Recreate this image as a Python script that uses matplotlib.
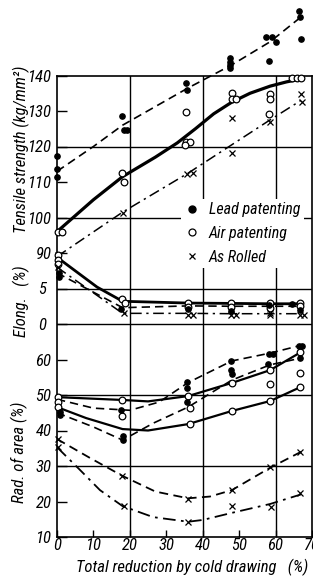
import matplotlib
matplotlib.use("Agg")
import matplotlib.pyplot as plt
from matplotlib.lines import Line2D

plt.rcParams['font.family'] = ['Roboto Condensed', 'Roboto', 'DejaVu Sans']
plt.rcParams['font.style'] = 'italic'

# ---------------- data ----------------
# Tensile strength (kg/mm2)
lead_ts_px = [0, 0, 0, 17.8, 18.5, 19.2, 35.5, 35.8, 47.5, 47.5, 47.5, 47.5, 57.5, 59, 60, 58.2, 66.5, 66.8, 67]
lead_ts_py = [117.3, 113.7, 111.4, 128.6, 124.6, 124.6, 137.9, 135.9, 144.9, 143.8, 143, 142.1, 150.8, 150.8, 149.4, 144.1, 158.2, 156.5, 150.3]
lead_ts_lx = [0, 10, 18, 36, 48, 58.5, 67]
lead_ts_ly = [113, 120, 126, 136.5, 143, 149.5, 156.5]

air_ts_px = [0.3, 1.4, 17.8, 18.3, 35.5, 35.5, 36.6, 35.2, 48, 48, 49.2, 58.5, 58.5, 58.3, 64.4, 65.8, 67.1]
air_ts_py = [96, 96, 112.5, 110, 129.7, 121.3, 121.3, 120.4, 135.1, 133.4, 133.4, 134.8, 133.4, 129.2, 139.3, 139.3, 139.3]
air_ts_lx = [0, 5, 10, 18, 27, 33, 38, 43, 48, 53, 58.5, 63, 67]
air_ts_ly = [96, 100.5, 105, 111.5, 117, 121, 125, 129.2, 132.5, 135, 137, 138.2, 139]

rol_ts_px = [0.3, 18, 35.6, 37.3, 48, 48, 58.5, 67, 67.2]
rol_ts_py = [89.5, 101.3, 112.3, 112.5, 128, 118.2, 126.9, 134.8, 132.5]
rol_ts_lx = [0, 18, 36, 48, 58.5, 67]
rol_ts_ly = [89, 101.5, 112.5, 120.5, 127.5, 133]

# Elongation (%)
air_el_px = [0.3, 0.3, 0.3, 17.9, 18.6, 35.9, 35.9, 47.8, 47.8, 58.4, 58.4, 66.7, 66.7]
air_el_py = [9.7, 9.0, 8.4, 3.5, 2.9, 3.0, 2.45, 2.9, 2.45, 2.9, 2.3, 3.0, 2.5]
air_el_lx = [0, 11, 18, 36, 48, 58.5, 67]
air_el_ly = [9.4, 5.2, 3.2, 2.95, 2.9, 2.85, 2.85]

lead_el_px = [0.6, 0.6, 17.6, 35.9, 47.8, 58.2, 64.6, 66.7]
lead_el_py = [7.2, 6.6, 2.1, 2.05, 1.9, 2.7, 2.8, 2.0]
lead_el_lx = [0, 18, 36, 48, 58.5, 67]
lead_el_ly = [7.2, 2.3, 2.55, 2.5, 2.5, 2.5]

rol_el_px = [0.3, 18.5, 35.9, 37.2, 47.8, 49.2, 58.4, 58.4, 66.7, 67.7]
rol_el_py = [8.0, 1.6, 1.27, 1.27, 1.27, 1.27, 1.6, 1.27, 1.27, 1.27]
rol_el_lx = [0, 18, 36, 48, 58.5, 67]
rol_el_ly = [8.0, 1.5, 1.5, 1.45, 1.45, 1.45]

# Reduction of area (%)
air_ra_px = [0.3, 0.3, 0.3, 17.8, 17.8, 35.9, 36.5, 36.5, 48, 48, 58.5, 58.5, 58.5, 66.8, 66.8, 66.8]
air_ra_py = [49.4, 48.0, 46.6, 48.6, 44.1, 49.7, 46.3, 41.8, 53.4, 45.5, 57, 53.1, 48.3, 62.1, 56.2, 52.3]
airA_ra_lx = [0, 18, 25, 36, 48, 58.5, 67]
airA_ra_ly = [49.4, 48.6, 48.2, 49.7, 53.4, 57, 62.1]
airB_ra_lx = [0, 8, 18, 25, 36, 48, 58.5, 67]
airB_ra_ly = [46.6, 43.5, 40.4, 40.0, 41.8, 45.5, 48.3, 52.3]

lead_ra_px = [0.8, 0.8, 17.6, 18.2, 18.2, 35.8, 35.8, 35.8, 47.8, 47.8, 48.1, 58.3, 59.2, 57.8, 66.4, 67.3, 66.6]
lead_ra_py = [45.3, 44.4, 45.8, 38.5, 37.3, 53.7, 51.9, 48.1, 59.7, 57.0, 55.8, 61.5, 61.5, 58.6, 63.9, 63.9, 60.3]
leadA_ra_lx = [0, 10, 20, 28, 36, 48, 58.5, 67]
leadA_ra_ly = [48.8, 46.3, 45.7, 48, 53.5, 59.6, 61.8, 64]
leadB_ra_lx = [0, 10, 18, 26.5, 36, 48, 58.5, 67]
leadB_ra_ly = [45, 41, 37.3, 42.1, 46.6, 54.2, 58.5, 60.4]

rol_ra_px = [0.3, 0.3, 17.8, 18.3, 35.9, 35.9, 48, 48, 58.5, 58.8, 66.8, 66.8]
rol_ra_py = [37.6, 35.3, 27.2, 18.7, 20.7, 14.2, 23.2, 18.7, 29.7, 18.5, 33.9, 22.4]
rolA_ra_lx = [0, 9, 18, 27, 36, 42, 48, 58.5, 67]
rolA_ra_ly = [37.6, 32.3, 27.2, 22.8, 20.9, 21.4, 23.2, 29.5, 34]
rolB_ra_lx = [0, 6.3, 11.8, 18, 26.4, 36, 40, 48, 58.5, 67]
rolB_ra_ly = [35.3, 28.9, 23.2, 18.7, 15.6, 14.3, 14.8, 16.8, 19.3, 22]

x_ticks = [0, 10, 20, 30, 40, 50, 60, 70]
u_ticks = [10, 20, 30, 40, 50, 60, 90, 100, 110, 120, 130, 140]
e_ticks = [0, 5]

# ---------------- figure ----------------
W, H = 313, 581
fig = plt.figure(figsize=(W / 100, H / 100), dpi=100)
fig.patch.set_facecolor('white')
ax = fig.add_axes([57 / W, 44 / H, 255 / W, 461.5 / H])
ax.set_xlim(0, 70)
ax.set_ylim(10, 140)
axe = ax.twinx()
axe.set_ylim(-30, 35)
for s in axe.spines.values():
    s.set_visible(False)

K = 'black'
lwg = 1.0
for xv in [20, 40, 60]:
    ax.axvline(xv, color=K, lw=lwg, zorder=1)
for uv in [30, 50, 100, 120]:
    ax.axhline(uv, color=K, lw=lwg, zorder=1)
for ev in [0, 5]:
    axe.axhline(ev, color=K, lw=lwg, zorder=1)
for s in ax.spines.values():
    s.set_linewidth(1.2)

dash = (0, (5, 3))
dashdot = (0, (7, 3, 1.5, 3))

def pts(a, x, y, kind):
    if kind == 'lead':
        a.plot(x, y, 'o', ms=3.8, color=K, mec=K, clip_on=False, zorder=5)
    elif kind == 'air':
        a.plot(x, y, 'o', ms=4.8, mfc='white', mec=K, mew=0.9, clip_on=False, zorder=5)
    else:
        a.plot(x, y, 'x', ms=4.0, color=K, mew=0.9, clip_on=False, zorder=5)

# tensile
ax.plot(lead_ts_lx, lead_ts_ly, color=K, lw=1.2, ls=dash, clip_on=False, zorder=3)
ax.plot(air_ts_lx, air_ts_ly, color=K, lw=2.3, zorder=3)
ax.plot(rol_ts_lx, rol_ts_ly, color=K, lw=1.1, ls=dashdot, zorder=3)
pts(ax, lead_ts_px, lead_ts_py, 'lead')
pts(ax, air_ts_px, air_ts_py, 'air')
pts(ax, rol_ts_px, rol_ts_py, 'rol')

# elongation
axe.plot(air_el_lx, air_el_ly, color=K, lw=2.0, zorder=3)
axe.plot(lead_el_lx, lead_el_ly, color=K, lw=1.2, ls=dash, zorder=3)
axe.plot(rol_el_lx, rol_el_ly, color=K, lw=1.1, ls=dashdot, zorder=3)
pts(axe, air_el_px, air_el_py, 'air')
pts(axe, lead_el_px, lead_el_py, 'lead')
pts(axe, rol_el_px, rol_el_py, 'rol')

# reduction of area
ax.plot(airA_ra_lx, airA_ra_ly, color=K, lw=1.6, zorder=3)
ax.plot(airB_ra_lx, airB_ra_ly, color=K, lw=1.6, zorder=3)
ax.plot(leadA_ra_lx, leadA_ra_ly, color=K, lw=1.2, ls=dash, zorder=3)
ax.plot(leadB_ra_lx, leadB_ra_ly, color=K, lw=1.2, ls=dash, zorder=3)
ax.plot(rolA_ra_lx, rolA_ra_ly, color=K, lw=1.3, ls=dash, zorder=3)
ax.plot(rolB_ra_lx, rolB_ra_ly, color=K, lw=1.3, ls=dashdot, zorder=3)
pts(ax, air_ra_px, air_ra_py, 'air')
pts(ax, lead_ra_px, lead_ra_py, 'lead')
pts(ax, rol_ra_px, rol_ra_py, 'rol')

# ticks
ax.set_xticks(x_ticks)
ax.set_xticklabels([str(v) for v in x_ticks], fontsize=12)
ax.set_yticks(u_ticks)
ax.set_yticklabels([str(v) for v in u_ticks], fontsize=12)
ax.tick_params(axis='y', direction='in', length=7, width=1.0, pad=4, left=True, right=False)
ax.tick_params(axis='x', direction='in', length=5, width=1.0, pad=1)
axe.set_yticks(e_ticks)
axe.set_yticklabels([str(v) for v in e_ticks], fontsize=12)
axe.yaxis.set_ticks_position('left')
axe.tick_params(axis='y', direction='in', length=7, width=1.0, pad=8, left=True, right=False,
                labelleft=True, labelright=False)

# axis labels
fig.text(21 / W, 1 - 149 / H, 'Tensile strength (kg/mm²)', rotation=90, ha='center', va='center', fontsize=12)
fig.text(21 / W, 1 - 301 / H, 'Elong.   (%)', rotation=90, ha='center', va='center', fontsize=12)
fig.text(19 / W, 1 - 452 / H, 'Rad. of area (%)', rotation=90, ha='center', va='center', fontsize=12)
fig.text(192 / W, 1 - 567 / H, 'Total reduction by cold drawing   (%)', ha='center', va='center', fontsize=12)

# legend
handles = [
    Line2D([], [], ls='none', marker='o', ms=5, color=K),
    Line2D([], [], ls='none', marker='o', ms=5, mfc='white', mec=K, mew=0.9),
    Line2D([], [], ls='none', marker='x', ms=5, color=K, mew=0.9),
]
leg = ax.legend(handles, ['Lead patenting', 'Air patenting', 'As Rolled'],
                loc='upper left', bbox_to_anchor=(181 / W, 1 - 199 / H), bbox_transform=fig.transFigure,
                frameon=True, facecolor='white', edgecolor='none', framealpha=1,
                fontsize=11.5, handlelength=1.0, handletextpad=0.55, labelspacing=0.55,
                borderpad=0.2, borderaxespad=0)
leg.set_zorder(10)

fig.savefig('out.png', dpi=100, facecolor='white')
